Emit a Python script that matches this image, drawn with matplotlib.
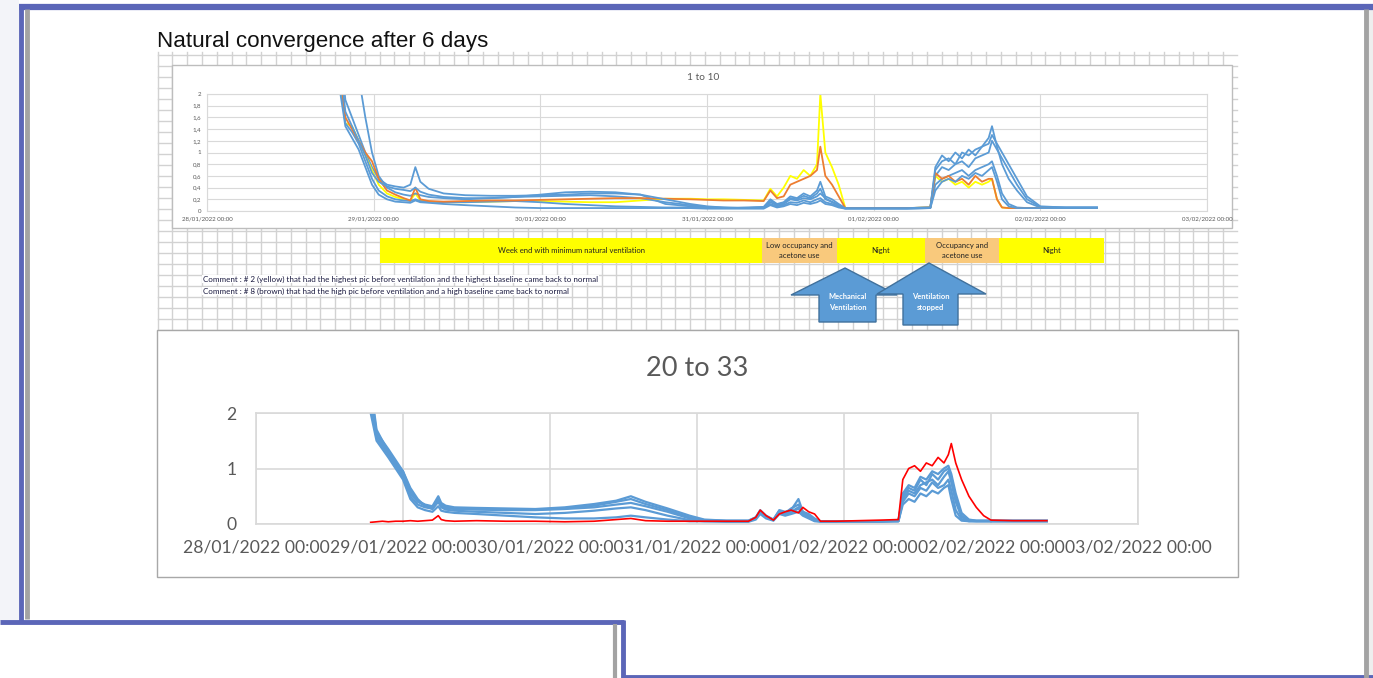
import matplotlib
matplotlib.use("Agg")
import matplotlib.pyplot as plt
from matplotlib.patches import Rectangle, Polygon

plt.rcParams['font.family'] = ['Lato', 'DejaVu Sans']

# ---------------- data ----------------
DATE_LABELS = ["28/01/2022 00:00", "29/01/2022 00:00", "30/01/2022 00:00",
               "31/01/2022 00:00", "01/02/2022 00:00", "02/02/2022 00:00",
               "03/02/2022 00:00"]

# top chart "1 to 10": time in days after 28/01/2022 00:00
T_TOP = [0.79, 0.83, 0.87, 0.91, 0.95, 0.99, 1.03, 1.08, 1.13, 1.18, 1.22, 1.25,
         1.28, 1.33, 1.42, 1.55, 1.70, 1.85, 2.00, 2.15, 2.30, 2.45, 2.60, 2.75,
         2.90, 3.00, 3.10, 3.22, 3.34, 3.38, 3.42, 3.46, 3.50, 3.54, 3.58, 3.62,
         3.66, 3.68, 3.71, 3.75, 3.79, 3.83, 3.90, 4.05, 4.20, 4.34, 4.37, 4.41,
         4.45, 4.49, 4.53, 4.57, 4.61, 4.65, 4.69, 4.71, 4.74, 4.77, 4.81, 4.86,
         4.92, 5.00, 5.15, 5.34]

top_blue_a = [3.2, 1.9, 1.6, 1.3, 1.0, 0.75, 0.55, 0.45, 0.42, 0.40, 0.45, 0.75,
              0.50, 0.38, 0.30, 0.27, 0.26, 0.26, 0.27, 0.28, 0.30, 0.30, 0.28, 0.12,
              0.08, 0.06, 0.05, 0.06, 0.07, 0.20, 0.12, 0.15, 0.25, 0.22, 0.30, 0.25,
              0.35, 0.50, 0.25, 0.20, 0.12, 0.05, 0.05, 0.05, 0.05, 0.06, 0.70, 0.85,
              0.90, 0.80, 1.00, 0.95, 1.05, 1.10, 1.25, 1.45, 1.10, 0.80, 0.55, 0.35,
              0.15, 0.06, 0.06, 0.06]
top_blue_b = [3.5, 3.2, 2.8, 2.3, 1.6, 1.0, 0.60, 0.40, 0.32, 0.28, 0.26, 0.30,
              0.27, 0.24, 0.22, 0.20, 0.22, 0.24, 0.25, 0.26, 0.27, 0.25, 0.22, 0.15,
              0.10, 0.07, 0.06, 0.05, 0.06, 0.15, 0.10, 0.12, 0.20, 0.18, 0.22, 0.20,
              0.25, 0.30, 0.22, 0.15, 0.10, 0.05, 0.05, 0.05, 0.05, 0.06, 0.60, 0.75,
              0.70, 0.80, 0.85, 0.75, 0.90, 0.95, 1.00, 1.20, 1.05, 0.90, 0.70, 0.45,
              0.20, 0.07, 0.06, 0.06]
top_blue_c = [2.5, 1.5, 1.35, 1.15, 0.85, 0.55, 0.35, 0.25, 0.20, 0.18, 0.17, 0.20,
              0.17, 0.16, 0.15, 0.15, 0.16, 0.17, 0.15, 0.12, 0.10, 0.08, 0.07, 0.06,
              0.06, 0.05, 0.05, 0.05, 0.05, 0.12, 0.08, 0.10, 0.15, 0.14, 0.18, 0.15,
              0.20, 0.22, 0.15, 0.12, 0.08, 0.04, 0.04, 0.04, 0.04, 0.05, 0.45, 0.55,
              0.60, 0.65, 0.70, 0.60, 0.70, 0.75, 0.80, 0.85, 0.60, 0.30, 0.12, 0.06,
              0.05, 0.05, 0.05, 0.05]
top_blue_d = [2.2, 1.45, 1.25, 1.05, 0.75, 0.45, 0.28, 0.20, 0.16, 0.15, 0.14, 0.18,
              0.15, 0.14, 0.12, 0.10, 0.08, 0.06, 0.05, 0.05, 0.05, 0.05, 0.05, 0.05,
              0.05, 0.04, 0.04, 0.04, 0.04, 0.10, 0.06, 0.08, 0.12, 0.10, 0.14, 0.12,
              0.15, 0.18, 0.12, 0.10, 0.06, 0.04, 0.04, 0.04, 0.04, 0.05, 0.35, 0.50,
              0.55, 0.50, 0.60, 0.55, 0.65, 0.60, 0.70, 0.75, 0.50, 0.20, 0.08, 0.05,
              0.05, 0.05, 0.05, 0.05]
top_blue_e = [2.8, 1.7, 1.45, 1.2, 0.95, 0.65, 0.50, 0.42, 0.38, 0.36, 0.34, 0.40,
              0.33, 0.28, 0.24, 0.22, 0.22, 0.24, 0.28, 0.32, 0.33, 0.32, 0.28, 0.20,
              0.12, 0.08, 0.06, 0.05, 0.06, 0.18, 0.11, 0.14, 0.22, 0.20, 0.26, 0.22,
              0.30, 0.38, 0.20, 0.16, 0.10, 0.05, 0.05, 0.05, 0.05, 0.06, 0.75, 0.95,
              0.85, 1.00, 0.90, 1.05, 0.95, 1.10, 1.15, 1.30, 1.15, 1.00, 0.80, 0.55,
              0.25, 0.08, 0.06, 0.06]
top_orange = [2.6, 1.6, 1.4, 1.2, 1.0, 0.85, 0.55, 0.35, 0.28, 0.22, 0.18, 0.40,
              0.20, 0.17, 0.16, 0.17, 0.18, 0.18, 0.19, 0.20, 0.21, 0.22, 0.22, 0.21,
              0.20, 0.19, 0.18, 0.18, 0.17, 0.35, 0.22, 0.25, 0.45, 0.50, 0.55, 0.60,
              0.70, 1.10, 0.60, 0.45, 0.25, 0.05, 0.05, 0.05, 0.05, 0.06, 0.65, 0.55,
              0.60, 0.50, 0.55, 0.45, 0.60, 0.50, 0.55, 0.55, 0.20, 0.06, 0.05, 0.05,
              0.05, 0.05, 0.05, 0.05]
top_yellow = [2.4, 1.5, 1.45, 1.2, 0.95, 0.70, 0.45, 0.30, 0.24, 0.20, 0.18, 0.30,
              0.18, 0.16, 0.15, 0.15, 0.16, 0.17, 0.17, 0.16, 0.15, 0.15, 0.18, 0.21,
              0.21, 0.20, 0.20, 0.19, 0.18, 0.38, 0.25, 0.40, 0.60, 0.55, 0.70, 0.60,
              0.80, 2.00, 1.00, 0.75, 0.45, 0.05, 0.05, 0.05, 0.05, 0.06, 0.60, 0.50,
              0.55, 0.45, 0.50, 0.40, 0.50, 0.45, 0.50, 0.55, 0.20, 0.06, 0.05, 0.05,
              0.05, 0.05, 0.05, 0.05]

# bottom chart "20 to 33"
T_BOT = [0.78, 0.82, 0.86, 0.90, 0.95, 1.00, 1.05, 1.10, 1.15, 1.20, 1.24, 1.26,
         1.29, 1.35, 1.50, 1.70, 1.90, 2.10, 2.30, 2.45, 2.55, 2.65, 2.80, 2.95,
         3.05, 3.20, 3.35, 3.40, 3.43, 3.47, 3.52, 3.56, 3.60, 3.64, 3.69, 3.72,
         3.76, 3.80, 3.84, 3.95, 4.10, 4.25, 4.37, 4.40, 4.44, 4.48, 4.52, 4.56,
         4.60, 4.64, 4.68, 4.71, 4.73, 4.76, 4.80, 4.85, 4.90, 4.95, 5.00, 5.15,
         5.38]

bot_blue_1 = [2.3, 1.6, 1.45, 1.3, 1.1, 0.95, 0.60, 0.42, 0.35, 0.32, 0.50, 0.38,
              0.33, 0.30, 0.29, 0.28, 0.27, 0.30, 0.36, 0.42, 0.50, 0.40, 0.28, 0.15,
              0.08, 0.06, 0.06, 0.12, 0.25, 0.15, 0.08, 0.25, 0.22, 0.25, 0.45, 0.22,
              0.18, 0.10, 0.05, 0.05, 0.05, 0.05, 0.06, 0.55, 0.70, 0.65, 0.85, 0.80,
              0.95, 0.90, 1.00, 1.05, 0.90, 0.55, 0.20, 0.08, 0.06, 0.06, 0.06, 0.06,
              0.06]
bot_blue_2 = [2.1, 1.55, 1.40, 1.25, 1.05, 0.85, 0.50, 0.35, 0.30, 0.28, 0.42, 0.32,
              0.29, 0.27, 0.26, 0.25, 0.25, 0.27, 0.30, 0.35, 0.38, 0.32, 0.22, 0.10,
              0.06, 0.05, 0.05, 0.10, 0.22, 0.12, 0.07, 0.22, 0.20, 0.22, 0.30, 0.20,
              0.15, 0.08, 0.05, 0.05, 0.05, 0.05, 0.05, 0.45, 0.60, 0.55, 0.70, 0.75,
              0.80, 0.70, 0.85, 0.95, 0.75, 0.40, 0.12, 0.06, 0.05, 0.05, 0.05, 0.05,
              0.05]
bot_blue_3 = [2.5, 1.7, 1.5, 1.35, 1.15, 0.95, 0.65, 0.45, 0.32, 0.27, 0.40, 0.30,
              0.26, 0.24, 0.22, 0.20, 0.18, 0.20, 0.24, 0.28, 0.30, 0.25, 0.15, 0.07,
              0.05, 0.05, 0.05, 0.10, 0.22, 0.12, 0.07, 0.20, 0.18, 0.20, 0.28, 0.18,
              0.12, 0.06, 0.05, 0.05, 0.05, 0.05, 0.05, 0.40, 0.55, 0.50, 0.65, 0.60,
              0.75, 0.65, 0.70, 0.80, 0.60, 0.25, 0.08, 0.05, 0.05, 0.05, 0.05, 0.05,
              0.05]
bot_blue_4 = [2.0, 1.5, 1.35, 1.2, 1.0, 0.80, 0.45, 0.30, 0.25, 0.22, 0.32, 0.24,
              0.22, 0.20, 0.18, 0.15, 0.12, 0.10, 0.10, 0.12, 0.15, 0.12, 0.08, 0.05,
              0.05, 0.04, 0.04, 0.08, 0.18, 0.10, 0.06, 0.18, 0.15, 0.18, 0.22, 0.15,
              0.10, 0.05, 0.04, 0.04, 0.04, 0.04, 0.05, 0.35, 0.45, 0.40, 0.55, 0.50,
              0.60, 0.55, 0.65, 0.70, 0.45, 0.15, 0.06, 0.05, 0.05, 0.05, 0.05, 0.05,
              0.05]
bot_blue_5 = [2.4, 1.65, 1.5, 1.3, 1.1, 0.90, 0.55, 0.40, 0.33, 0.30, 0.45, 0.35,
              0.31, 0.28, 0.27, 0.26, 0.26, 0.28, 0.33, 0.40, 0.45, 0.36, 0.25, 0.12,
              0.07, 0.06, 0.06, 0.12, 0.24, 0.14, 0.08, 0.24, 0.20, 0.28, 0.35, 0.22,
              0.16, 0.08, 0.05, 0.05, 0.05, 0.05, 0.06, 0.50, 0.65, 0.60, 0.80, 0.70,
              0.90, 0.80, 0.95, 1.00, 0.85, 0.45, 0.15, 0.07, 0.06, 0.06, 0.06, 0.06,
              0.06]
bot_red = [0.03, 0.04, 0.05, 0.04, 0.05, 0.05, 0.06, 0.05, 0.06, 0.07, 0.15, 0.08,
           0.06, 0.05, 0.06, 0.05, 0.05, 0.04, 0.05, 0.08, 0.10, 0.06, 0.05, 0.05,
           0.05, 0.05, 0.05, 0.12, 0.25, 0.15, 0.07, 0.18, 0.22, 0.25, 0.20, 0.30,
           0.22, 0.18, 0.05, 0.05, 0.06, 0.07, 0.08, 0.80, 1.00, 1.05, 0.95, 1.10,
           1.05, 1.20, 1.10, 1.25, 1.45, 1.10, 0.80, 0.50, 0.30, 0.15, 0.07, 0.06,
           0.06]

TOP_YTICKS = [0, 0.2, 0.4, 0.6, 0.8, 1.0, 1.2, 1.4, 1.6, 1.8, 2.0]
TOP_YLABELS = ["0", "0,2", "0,4", "0,6", "0,8", "1", "1,2", "1,4", "1,6", "1,8", "2"]
BOT_YTICKS = [0, 1, 2]

BANDS = [("Week end with minimum natural ventilation", 380, 762, "#ffff00"),
         ("Low occupancy and\nacetone use", 762, 837, "#f9c97c"),
         ("Night", 837, 925, "#ffff00"),
         ("Occupancy and\nacetone use", 925, 999, "#f9c97c"),
         ("Night", 999, 1104, "#ffff00")]

COMMENTS = ["Comment : # 2 (yellow) that had the highest pic before ventilation and the highest baseline came back to normal",
            "Comment : # 8 (brown) that had the high pic before ventilation and a high baseline came back to normal"]

# ---------------- figure ----------------
W, H = 1373, 678
fig = plt.figure(figsize=(W / 100, H / 100), dpi=100)
fig.patch.set_facecolor("white")


def rect(x0, y0, x1, y1):
    return [x0 / W, 1 - y1 / H, (x1 - x0) / W, (y1 - y0) / H]


bg = fig.add_axes([0, 0, 1, 1], zorder=0)
bg.set_xlim(0, W)
bg.set_ylim(H, 0)
bg.axis("off")

PURPLE = "#5b66b8"
GREYL = "#a3a3a3"
# outer background strips
bg.add_patch(Rectangle((0, 0), 19, 621, facecolor="#f3f4f9", edgecolor="none"))
bg.add_patch(Rectangle((1368, 8), 5, 670, facecolor="#eeeeee", edgecolor="none"))
# frame
bg.plot([19, W], [6.5, 6.5], color=PURPLE, lw=4.5, solid_capstyle="butt")
bg.plot([20.5, 20.5], [5, 621], color=PURPLE, lw=3.5, solid_capstyle="butt")
bg.plot([26.5, 26.5], [9, 619], color=GREYL, lw=3.5, solid_capstyle="butt")
bg.plot([0, 624], [621.5, 621.5], color=PURPLE, lw=3.5, solid_capstyle="butt")
bg.plot([622.5, 622.5], [620, H], color=PURPLE, lw=3.5, solid_capstyle="butt")
bg.plot([614.5, 614.5], [624, H], color=GREYL, lw=3, solid_capstyle="butt")
bg.plot([622, W], [676.5, 676.5], color=PURPLE, lw=3.5, solid_capstyle="butt")
bg.plot([1366, 1366], [9, H], color=GREYL, lw=3.5, solid_capstyle="butt")

# title
bg.text(157, 42, "Natural convergence after 6 days", fontsize=16.1,
        family=["Liberation Sans", "DejaVu Sans"], color="#111111",
        ha="left", va="center")

# spreadsheet grid
GX0, GX1, GY0, GY1 = 157.5, 1237, 52, 330
GRIDC = "#d2d2d2"
x = GX0
while x <= GX1 + 0.1:
    bg.plot([x, x], [GY0, GY1], color=GRIDC, lw=1.0)
    x += 14.8
y = 55
while y <= GY1 + 0.1:
    bg.plot([GX0, GX1], [y, y], color=GRIDC, lw=1.0)
    y += 11

# chart boxes
bg.add_patch(Rectangle((172, 65), 1060, 163, facecolor="white", edgecolor="#bdbdbd", lw=1.0, zorder=3))
bg.add_patch(Rectangle((157, 330), 1081, 247, facecolor="white", edgecolor="#a8a8a8", lw=1.0, zorder=3))

# bands
for label, x0, x1, col in BANDS:
    bg.add_patch(Rectangle((x0, 237.5), x1 - x0, 25.5, facecolor=col, edgecolor="none", zorder=3))
    bg.text((x0 + x1) / 2, 250.5, label, fontsize=5.5, ha="center", va="center",
            color="#222222", zorder=4, linespacing=1.6)

# comments
for i, c in enumerate(COMMENTS):
    bg.text(203, 279 + 12 * i, c, fontsize=5.75, ha="left", va="center", color="#1a1a40",
            zorder=4, bbox=dict(facecolor="white", edgecolor="none", pad=0.5))


# arrows
def up_arrow(tip_x, tip_y, head_l, head_r, head_y, sh_l, sh_r, bot_y, label):
    pts = [(tip_x, tip_y), (head_r, head_y), (sh_r, head_y), (sh_r, bot_y),
           (sh_l, bot_y), (sh_l, head_y), (head_l, head_y)]
    bg.add_patch(Polygon(pts, closed=True, facecolor="#5b9bd5", edgecolor="#41719c",
                         lw=1.0, zorder=5))
    bg.text((sh_l + sh_r) / 2, 302, label, fontsize=5.4, color="white", ha="center",
            va="center", zorder=6, linespacing=1.6, fontweight="bold")


up_arrow(845, 268, 791, 897, 295, 819, 876, 322, "Mechanical\nVentilation")
up_arrow(929, 263, 877, 986, 294, 903, 958, 325, "Ventilation\nstopped")

BLUE = "#5b9bd5"
TXT = "#595959"

# ---- top chart ----
ax1 = fig.add_axes(rect(207, 94, 1207, 211), zorder=10)
ax1.patch.set_alpha(0)
ax1.set_xlim(0, 6)
ax1.set_ylim(0, 2)
ax1.set_yticks(TOP_YTICKS)
ax1.set_yticklabels(TOP_YLABELS)
ax1.set_xticks(range(len(DATE_LABELS)))
ax1.set_xticklabels(DATE_LABELS)
ax1.tick_params(length=0, labelsize=4.4, labelcolor=TXT, pad=4)
ax1.grid(True, color="#d9d9d9", lw=0.8)
ax1.set_axisbelow(True)
for s in ax1.spines.values():
    s.set_color("#d9d9d9")
    s.set_linewidth(0.8)
ax1.plot(T_TOP, top_blue_a, color=BLUE, lw=1.3)
ax1.plot(T_TOP, top_yellow, color="#ffff00", lw=1.3)
ax1.plot(T_TOP, top_blue_b, color=BLUE, lw=1.3)
ax1.plot(T_TOP, top_blue_c, color=BLUE, lw=1.3)
ax1.plot(T_TOP, top_orange, color="#ed7d31", lw=1.3)
ax1.plot(T_TOP, top_blue_d, color=BLUE, lw=1.3)
ax1.plot(T_TOP, top_blue_e, color=BLUE, lw=1.3)
fig.text(703 / W, 1 - 78 / H, "1 to 10", fontsize=7.3, color=TXT, ha="center", va="center")

# ---- bottom chart ----
ax2 = fig.add_axes(rect(256, 413, 1138, 524), zorder=10)
ax2.patch.set_alpha(0)
ax2.set_xlim(0, 6)
ax2.set_ylim(0, 2)
ax2.set_yticks(BOT_YTICKS)
ax2.set_xticks(range(len(DATE_LABELS)))
ax2.set_xticklabels(DATE_LABELS)
ax2.tick_params(length=0, labelsize=12.6, labelcolor=TXT, pad=11)
ax2.tick_params(axis="y", pad=14)
ax2.grid(True, color="#d9d9d9", lw=1.2)
ax2.set_axisbelow(True)
for s in ax2.spines.values():
    s.set_color("#d9d9d9")
    s.set_linewidth(1.2)
for series in (bot_blue_1, bot_blue_2, bot_blue_3, bot_blue_4, bot_blue_5):
    ax2.plot(T_BOT, series, color=BLUE, lw=1.6)
ax2.plot(T_BOT, bot_red, color="#ff0000", lw=1.2)
fig.text(697 / W, 1 - 368 / H, "20 to 33", fontsize=19.5, color=TXT, ha="center", va="center")

fig.savefig("out.png", dpi=100, facecolor="white")
